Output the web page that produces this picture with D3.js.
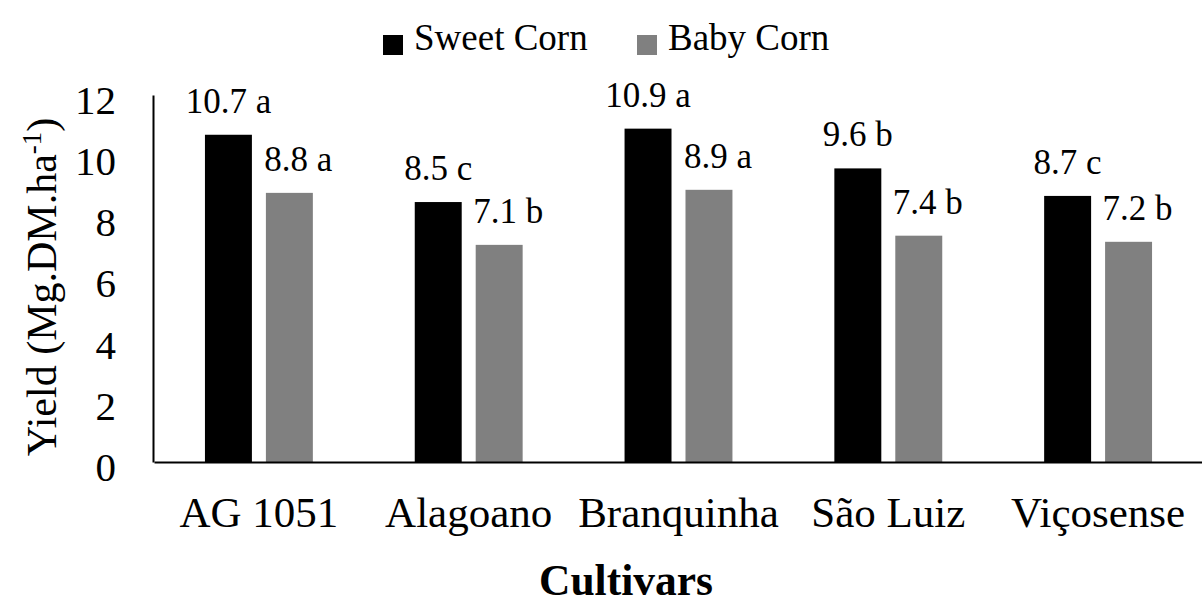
<!DOCTYPE html>
<html>
<head>
<meta charset="utf-8">
<script src="https://cdn.jsdelivr.net/npm/d3@7"></script>
<style>
  body { margin: 0; background: #fff; }
  text { font-family: "Liberation Serif", "Times New Roman", serif; fill: #000; }
</style>
</head>
<body>
<svg id="plot" width="1202" height="605"></svg>
<script>
var cultivars = ["AG 1051", "Alagoano", "Branquinha", "São Luiz", "Viçosense"];
var series = ["Sweet Corn", "Baby Corn"];
var sweet = [10.7, 8.5, 10.9, 9.6, 8.7];
var sweetLetters = ["a", "c", "a", "b", "c"];
var baby = [8.8, 7.1, 8.9, 7.4, 7.2];
var babyLetters = ["a", "b", "a", "b", "b"];
var yTicks = [0, 2, 4, 6, 8, 10, 12];
var colors = ["#000000", "#808080"];

function whenDocumentLoaded(action) {
	if (document.readyState === "loading") {
		document.addEventListener("DOMContentLoaded", action);
	} else {
		action();
	}
}

whenDocumentLoaded(() => {
	var svg = d3.select("#plot");

	var data = [];
	for (var i = 0; i < cultivars.length; i++) {
		data.push({cat: cultivars[i], s: series[0], v: sweet[i], l: sweetLetters[i], c: 0});
		data.push({cat: cultivars[i], s: series[1], v: baby[i], l: babyLetters[i], c: 1});
	}

	var x = d3.scaleBand().domain(cultivars).range([154, 1203]);
	var xs = d3.scaleBand().domain(series).range([0, x.bandwidth()])
		.paddingInner(0.2295).paddingOuter(0.836);
	var y = d3.scaleLinear().domain([0, 12]).range([462, 95]);

	// bars
	svg.selectAll("rect.bar")
		.data(data)
		.enter()
		.append("rect")
		.attr("class", "bar")
		.attr("x", d => x(d.cat) + xs(d.s))
		.attr("y", d => y(d.v))
		.attr("width", xs.bandwidth())
		.attr("height", d => y(0) - y(d.v))
		.attr("fill", d => colors[d.c]);

	// value labels (baby corn labels sit a bit to the right, as in the original)
	svg.selectAll("text.val")
		.data(data)
		.enter()
		.append("text")
		.attr("class", "val")
		.attr("x", d => x(d.cat) + xs(d.s) + xs.bandwidth() / 2 + (d.c == 1 ? 9 : 0))
		.attr("y", d => y(d.v) - 22)
		.attr("text-anchor", "middle")
		.style("font-size", "35px")
		.text(d => d.v.toFixed(1) + " " + d.l);

	// y axis
	var yAxis = svg.append("g")
		.attr("transform", "translate(153,0)")
		.call(d3.axisLeft(y).tickValues(yTicks).tickSize(0).tickPadding(37).tickFormat(d3.format("d")));
	yAxis.select(".domain").attr("stroke", "#000").attr("stroke-width", 2);
	yAxis.selectAll("text").style("font-size", "41px").attr("dy", "0.45em");

	// x axis
	var xAxis = svg.append("g")
		.attr("transform", "translate(0,462)")
		.call(d3.axisBottom(x).tickSize(0).tickPadding(30));
	xAxis.select(".domain").attr("stroke", "#000").attr("stroke-width", 2);
	xAxis.selectAll("text").style("font-size", "43px").attr("y", 65).attr("dy", "0");

	// axis titles
	var yt = svg.append("text")
		.attr("transform", "translate(56,287) rotate(-90)")
		.attr("text-anchor", "middle")
		.style("font-size", "42px");
	yt.append("tspan").text("Yield (Mg.DM.ha");
	yt.append("tspan").attr("dy", "-15").style("font-size", "27px").text("-1");
	yt.append("tspan").attr("dy", "15").text(")");

	svg.append("text")
		.attr("x", 626)
		.attr("y", 595)
		.attr("text-anchor", "middle")
		.style("font-size", "43.5px")
		.style("font-weight", "bold")
		.text("Cultivars");

	// legend
	var legX = [383, 637];
	var leg = svg.selectAll("g.leg")
		.data(series)
		.enter()
		.append("g")
		.attr("class", "leg")
		.attr("transform", (d, i) => "translate(" + legX[i] + ",0)");
	leg.append("rect")
		.attr("x", 0).attr("y", 35)
		.attr("width", 20).attr("height", 20)
		.attr("fill", (d, i) => colors[i]);
	leg.append("text")
		.attr("x", 31).attr("y", 50)
		.style("font-size", "37px")
		.text(d => d);
});
</script>
</body>
</html>
